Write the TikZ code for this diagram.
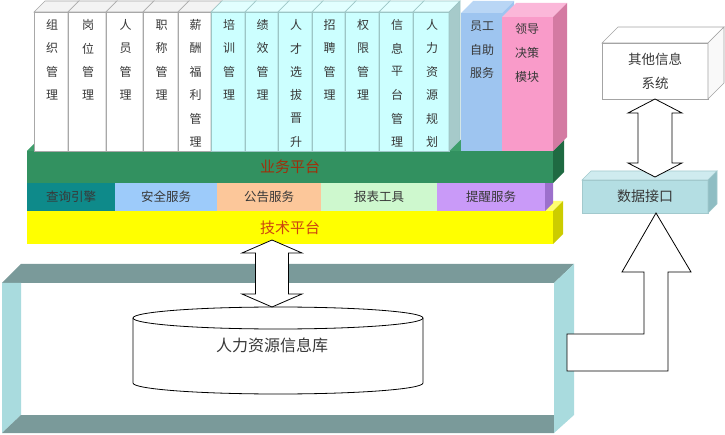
\documentclass[tikz,border=0pt]{standalone}
\usepackage{fontspec}
\setmainfont{Noto Sans CJK SC}
\usetikzlibrary{calc}

% colours
\definecolor{framebar}{HTML}{7A9A9A}
\definecolor{frameside}{HTML}{A9DBDE}
\definecolor{wfill}{HTML}{FFFFFF}
\definecolor{wtop}{HTML}{F3F3F3}
\definecolor{wside}{HTML}{D2D2D2}
\definecolor{wline}{HTML}{A8A8A8}
\definecolor{cfill}{HTML}{CCFFFF}
\definecolor{ctop}{HTML}{E2FFFF}
\definecolor{cside}{HTML}{A6CACA}
\definecolor{cline}{HTML}{9CC6C6}
\definecolor{staffblue}{HTML}{9EC5F0}
\definecolor{stafftop}{HTML}{B9D6F5}
\definecolor{leadpink}{HTML}{F99BC9}
\definecolor{leadtop}{HTML}{FBB7D9}
\definecolor{leadside}{HTML}{D47AA2}
\definecolor{bizgreen}{HTML}{329160}
\definecolor{biztop}{HTML}{3E9E6B}
\definecolor{bizside}{HTML}{1F6A42}
\definecolor{bizred}{HTML}{A0300A}
\definecolor{svcteal}{HTML}{0E8A8A}
\definecolor{svcblue}{HTML}{9DCBFA}
\definecolor{svcpeach}{HTML}{FCC79A}
\definecolor{svcgreen}{HTML}{CEF8CE}
\definecolor{svcpurple}{HTML}{C99AF8}
\definecolor{svcpside}{HTML}{9C70CC}
\definecolor{techyellow}{HTML}{FFFF00}
\definecolor{techtop}{HTML}{FFFF70}
\definecolor{techside}{HTML}{CCCC00}
\definecolor{techred}{HTML}{CC4410}
\definecolor{diffill}{HTML}{B4DEE3}
\definecolor{diftop}{HTML}{CFEBEF}
\definecolor{difside}{HTML}{8FBDC3}
\definecolor{difline}{HTML}{A2C9CD}
\definecolor{oisline}{HTML}{A4A4A4}
\definecolor{txtgray}{HTML}{383838}

\tikzset{
  front/.style={anchor=north west, inner sep=0pt, outer sep=0pt, line width=0.6pt},
  modtext/.style={font=\fontsize{12}{12}\selectfont, text=txtgray, inner sep=0pt},
  pairtext/.style={align=center, font=\fontsize{12}{23.6}\selectfont, text=txtgray, inner sep=0pt},
  svctext/.style={font=\fontsize{12.5}{14}\selectfont, text=txtgray},
  blockarrow/.style={draw=black, fill=white, line width=0.8pt, line join=miter},
}

% top and side faces of a box whose front is a node
\newcommand{\depthfaces}[5]{%
  \filldraw[draw=#5, line width=0.6pt, fill=#3] (#1.north west) -- ++(#2,-#2) -- ($(#1.north east)+(#2,-#2)$) -- (#1.north east) -- cycle;
  \filldraw[draw=#5, line width=0.6pt, fill=#4] (#1.north east) -- ++(#2,-#2) -- ($(#1.south east)+(#2,-#2)$) -- (#1.south east) -- cycle;
}

% upright double block arrow: top tip, bottom tip, shaft half width, head half width, head length
\newcommand{\dblarrow}[5]{%
  \draw[blockarrow] let \p1=(#1), \p2=(#2) in
    (\x1,\y1) -- (\x1+#4,\y1-#5) -- (\x1+#3,\y1-#5) -- (\x1+#3,\y2+#5) -- (\x1+#4,\y2+#5) -- (\x1,\y2)
    -- (\x1-#4,\y2+#5) -- (\x1-#3,\y2+#5) -- (\x1-#3,\y1-#5) -- (\x1-#4,\y1-#5) -- cycle;
}

\begin{document}
\begin{tikzpicture}[x=1pt, y=-1pt]
  \useasboundingbox (0,0) rectangle (725,435);

  % frame round the database
  \fill[framebar] (2,283) -- (554,283) -- (574,264) -- (21,264) -- cycle;
  \fill[frameside] (2,283) -- (21,283) -- (21,415) -- (2,433) -- cycle;
  \fill[framebar] (2,433) -- (554,433) -- (554,415) -- (21,415) -- cycle;
  \fill[frameside] (554,283) -- (574,264) -- (574,415) -- (554,433) -- cycle;

  % database cylinder
  \filldraw[fill=white, line width=0.8pt] (133,318) -- (133,383)
    arc[start angle=180, end angle=360, x radius=145pt, y radius=11pt] -- (423,318);
  \filldraw[fill=white, line width=0.8pt] (278,318) ellipse [x radius=145pt, y radius=11pt];
  \node[font=\fontsize{16}{16}\selectfont, text=txtgray] (hrdb) at (272,345) {人力资源信息库};
  \coordinate (dbtop) at (272,307);

  % technical platform
  \node[front, fill=techyellow, minimum width=526pt, minimum height=33pt,
        font=\fontsize{15}{15}\selectfont, text=techred] (tech) at (27,211) {技术平台};
  \depthfaces{tech}{10}{techtop}{techside}{none}

  % services
  \node[front, fill=svcteal, minimum width=88pt, minimum height=28pt, svctext] (search) at (27,183) {查询引擎};
  \node[front, fill=svcblue, minimum width=102pt, minimum height=28pt, svctext] (safety) at (search.north east) {安全服务};
  \node[front, fill=svcpeach, minimum width=104pt, minimum height=28pt, svctext] (notice) at (safety.north east) {公告服务};
  \node[front, fill=svcgreen, minimum width=116pt, minimum height=28pt, svctext] (report) at (notice.north east) {报表工具};
  \node[front, fill=svcpurple, minimum width=108pt, minimum height=28pt, svctext] (remind) at (report.north east) {提醒服务};
  \depthfaces{remind}{8}{svcpurple}{svcpside}{none}

  % business platform
  \node[front, fill=bizgreen, minimum width=526pt, minimum height=32pt,
        font=\fontsize{15}{15}\selectfont, text=bizred] (biz) at (27,151) {业务平台};
  \depthfaces{biz}{11}{biztop}{bizside}{none}

  % management modules
  \foreach \xa/\xb/\kind/\txt in {
      34/68/w/{组,织,管,理}, 68/106/w/{岗,位,管,理}, 106/143/w/{人,员,管,理},
      143/178/w/{职,称,管,理}, 178/211/w/{薪,酬,福,利,管,理},
      211/245/c/{培,训,管,理}, 245/278/c/{绩,效,管,理}, 278/312/c/{人,才,选,拔,晋,升},
      312/345/c/{招,聘,管,理}, 345/379/c/{权,限,管,理}, 379/413/c/{信,息,平,台,管,理},
      413/449/c/{人,力,资,源,规,划}}{
    \node[front, fill=\kind fill, draw=\kind line, minimum width={(\xb-\xa)*1pt}, minimum height=139pt] (col\xa) at (\xa,12) {};
    \depthfaces{col\xa}{11}{\kind top}{\kind side}{\kind line}
    \foreach \c [count=\i] in \txt
      \node[modtext] (col\xa-\i) at ({(\xa+\xb)/2+1},{25+23.4*(\i-1)}) {\c};
  }

  % self service and decision modules
  \node[front, fill=staffblue, minimum width=41pt, minimum height=138pt] (staff) at (461,13) {};
  \depthfaces{staff}{12}{stafftop}{staffblue}{none}
  \node[pairtext] (stafftxt) at (482,50) {员工\\自助\\服务};
  \node[front, fill=leadpink, minimum width=51pt, minimum height=134pt] (lead) at (502,17) {};
  \depthfaces{lead}{14}{leadtop}{leadside}{none}
  \node[pairtext] (leadtxt) at (527,53) {领导\\决策\\模块};

  % data interface and other systems
  \node[front, fill=diffill, draw=difline, minimum width=126pt, minimum height=33pt,
        font=\fontsize{14}{14}\selectfont, text=txtgray] (dif) at (582,180) {数据接口};
  \depthfaces{dif}{9}{diftop}{difside}{difline}
  \node[front, fill=white, draw=oisline, minimum width=106pt, minimum height=56pt, align=center,
        font=\fontsize{13.5}{24}\selectfont, text=txtgray] (ois) at (602,43) {其他信息\\系统};
  \depthfaces{ois}{16}{white}{white!95!gray}{oisline}

  % block arrows
  \dblarrow{ois.south}{$(dif.north)+(0,-3)$}{17pt}{27pt}{14pt}
  \dblarrow{$(tech.south)+(-18,-4)$}{dbtop}{16.5pt}{30pt}{13pt}
  \draw[blockarrow] (567,334) -- (644,334) -- (644,272) -- (622,272) -- ($(dif.south)+(11,0)$)
    -- (691,272) -- (668,272) -- (668,371) -- (567,371) -- cycle;
\end{tikzpicture}
\end{document}
